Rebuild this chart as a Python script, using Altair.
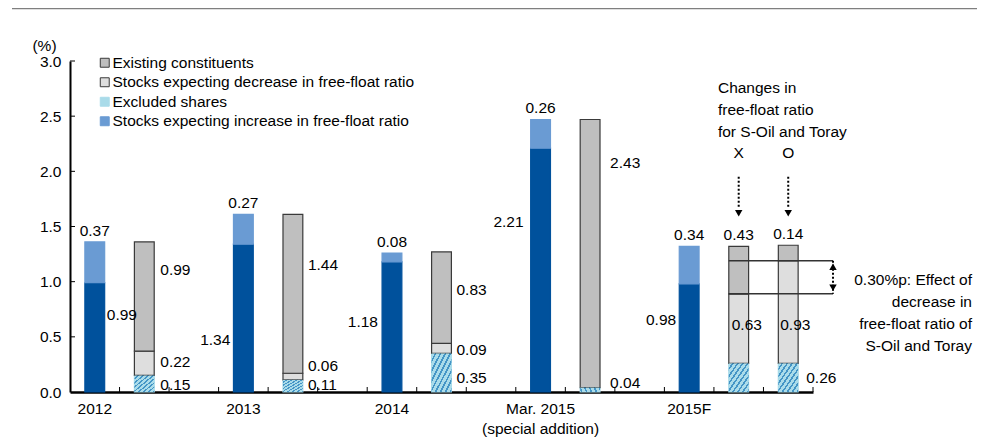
import altair as alt
import pandas as pd

# ---------------- data ----------------
periods = ["2012", "2013", "2014", "Mar. 2015", "2015F"]
categories = ["2012|L", "2012|R", "gap1", "2013|L", "2013|R", "gap2",
              "2014|L", "2014|R", "gap3", "Mar|L", "Mar|R", "gap4",
              "2015F|L", "2015F|X", "2015F|O"]
left_bars = ["2012|L", "2013|L", "2014|L", "Mar|L", "2015F|L"]
base_vals = [0.99, 1.34, 1.18, 2.21, 0.98]
increase_vals = [0.37, 0.27, 0.08, 0.26, 0.34]

right_bars = ["2012|R", "2013|R", "2014|R", "Mar|R", "2015F|X", "2015F|O"]
excluded_vals = [0.15, 0.11, 0.35, 0.04, 0.26, 0.26]
decrease_vals = [0.22, 0.06, 0.09, 0.00, 0.63, 0.93]
existing_vals = [0.99, 1.44, 0.83, 2.43, 0.43, 0.14]

S_EXIST = "Existing constituents"
S_DEC = "Stocks expecting decrease in free-float ratio"
S_EXCL = "Excluded shares"
S_INC = "Stocks expecting increase in free-float ratio"
S_BASE = "Current constituents"
legend_series = [S_EXIST, S_DEC, S_EXCL, S_INC]

# label placement (value-axis units) for the side labels
base_label_y = [0.70, 0.47, 0.63, 1.54, 0.65]
base_label_align = ["left", "right", "right", "right", "right"]
base_label_dx = [12, -13, -14, -17, -13]
right_label_dx = [16, 15, 15, 20]
existing_label_y = [1.11, 1.15, 0.92, 2.08]
decrease_label_y = [0.27, 0.24, 0.38, None]
excluded_label_y = [0.06, 0.06, 0.13, 0.08]

effect_low, effect_high = 0.89, 1.19

# ---------------- tables ----------------
rows = []
for c, b, inc in zip(left_bars, base_vals, increase_vals):
    rows.append(dict(cat=c, series=S_BASE, y0=0.0, y1=b))
    rows.append(dict(cat=c, series=S_INC, y0=b, y1=b + inc))
for c, e, d, x in zip(right_bars, excluded_vals, decrease_vals, existing_vals):
    rows.append(dict(cat=c, series=S_EXCL, y0=0.0, y1=e))
    if d > 0:
        rows.append(dict(cat=c, series=S_DEC, y0=e, y1=e + d))
    rows.append(dict(cat=c, series=S_EXIST, y0=e + d, y1=e + d + x))
bars = pd.DataFrame(rows)

top_rows = [dict(cat=c, y=b + i, text=f"{i:.2f}") for c, b, i in zip(left_bars, base_vals, increase_vals)]
for k in (4, 5):
    tot = excluded_vals[k] + decrease_vals[k] + existing_vals[k]
    top_rows.append(dict(cat=right_bars[k], y=tot, text=f"{existing_vals[k]:.2f}"))
tops = pd.DataFrame(top_rows)

lab = []
for i, c in enumerate(left_bars):
    lab.append(dict(cat=c, y=base_label_y[i], text=f"{base_vals[i]:.2f}",
                    align=base_label_align[i], dx=base_label_dx[i]))
for i in range(4):
    c = right_bars[i]
    lab.append(dict(cat=c, y=existing_label_y[i], text=f"{existing_vals[i]:.2f}", align="left", dx=right_label_dx[i]))
    if decrease_label_y[i] is not None:
        lab.append(dict(cat=c, y=decrease_label_y[i], text=f"{decrease_vals[i]:.2f}", align="left", dx=right_label_dx[i]))
    lab.append(dict(cat=c, y=excluded_label_y[i], text=f"{excluded_vals[i]:.2f}", align="left", dx=right_label_dx[i]))
lab.append(dict(cat="2015F|X", y=0.61, text=f"{decrease_vals[4]:.2f}", align="left", dx=-7))
lab.append(dict(cat="2015F|O", y=0.61, text=f"{decrease_vals[5]:.2f}", align="left", dx=-8))
lab.append(dict(cat="2015F|O", y=0.13, text=f"{excluded_vals[5]:.2f}", align="left", dx=18))
labels = pd.DataFrame(lab)

# ---------------- styling ----------------
W, H = 743, 331
FONT = "Liberation Sans"
FS = 15.5
fill_range = ["#bfbfbf", "#dedede", "#a9dbe9", "#6a9bd3", "#00519c"]
stroke_range = ["#3a3a3a", "#3a3a3a", "#a9dbe9", "#6a9bd3", "#00519c"]
domain_all = legend_series + [S_BASE]

xscale = alt.Scale(domain=categories, paddingInner=0, paddingOuter=0)
yscale = alt.Scale(domain=[0, 3], nice=False)

label_map = {"2012|L": "'2012'", "2013|L": "'2013'", "2014|L": "'2014'",
             "Mar|L": "['Mar. 2015', '(special addition)']", "2015F|L": "'2015F'"}
expr = "''"
for k, v in reversed(list(label_map.items())):
    expr = f"datum.value == '{k}' ? {v} : ({expr})"

xaxis = alt.Axis(title=None, labelExpr=expr, tickSize=0, labelPadding=9,
                 domainWidth=2.5, domainColor="black", labelAngle=0,
                 labelOverlap=False, labelFontSize=FS, labelFont=FONT,
                 labelColor="black", labelLineHeight=20, grid=False)
yaxis = alt.Axis(values=[0, 0.5, 1, 1.5, 2, 2.5, 3], format=".1f", tickSize=0,
                 labelPadding=9, domainWidth=2, domainColor="black",
                 labelFontSize=FS, labelFont=FONT, labelColor="black", grid=False,
                 title="(%)", titleAngle=0, titleX=-26, titleY=-16,
                 titleFontWeight="normal", titleFontSize=FS, titleFont=FONT,
                 titleAlign="center", titleBaseline="middle", titleColor="black")


def X(bp=0.5):
    return alt.X("cat:N", scale=xscale, axis=xaxis, bandPosition=bp)


def Y(field="y"):
    return alt.Y(f"{field}:Q", scale=yscale, axis=yaxis)


legend = alt.Legend(values=legend_series, title=None, orient="none", legendX=27, legendY=-6,
                    symbolType="square", symbolSize=80, labelFontSize=FS, labelFont=FONT,
                    labelColor="black", rowPadding=2.5, padding=0, labelOffset=0, labelLimit=0,
                    symbolStrokeWidth=1)

base_bars = alt.Chart(bars).mark_bar(width=alt.RelativeBandSize(0.4), strokeWidth=1.2).encode(
    x=X(),
    y=Y("y0"),
    y2="y1:Q",
    fill=alt.Fill("series:N", scale=alt.Scale(domain=domain_all, range=fill_range), legend=legend),
    stroke=alt.Stroke("series:N", scale=alt.Scale(domain=domain_all, range=stroke_range), legend=legend),
)

N = 8
stops = []
for k in range(N):
    a, b, e = k / N, (k + 0.62) / N, (k + 1) / N
    stops += [alt.GradientStop(offset=a, color="#aadcea"), alt.GradientStop(offset=b, color="#aadcea"),
              alt.GradientStop(offset=b, color="#4495c6"), alt.GradientStop(offset=e, color="#4495c6")]
hatch_fill = alt.Gradient(gradient="linear", stops=stops, x1=0, y1=0, x2=1, y2=1)

hatch = alt.Chart(bars[bars.series == S_EXCL]).mark_bar(
    width=alt.RelativeBandSize(0.4), fill=hatch_fill, strokeWidth=0
).encode(x=X(), y=Y("y0"), y2="y1:Q")

# inward ticks
ytick = alt.Chart(pd.DataFrame({"y": [0.5, 1, 1.5, 2, 2.5, 3]})).mark_rule(
    color="black", strokeWidth=1).encode(y=Y(), x=alt.value(0), x2=alt.value(5))
xtick = alt.Chart(pd.DataFrame({"cat": categories[1:]})).mark_rule(
    color="black", strokeWidth=1).encode(x=X(0), y=alt.value(H), y2=alt.value(H - 5))
xtick_end = alt.Chart(pd.DataFrame({"cat": categories[-1:]})).mark_rule(
    color="black", strokeWidth=1).encode(x=X(1), y=alt.value(H), y2=alt.value(H - 5))

header = alt.Chart(pd.DataFrame({"a": [0]})).mark_rule(color="#7f7f7f", strokeWidth=2.5).encode(
    x=alt.value(-58), x2=alt.value(W + 164), y=alt.value(-53))

txt = dict(font=FONT, fontSize=FS, color="black", baseline="middle")

top_text = alt.Chart(tops).mark_text(align="center", dy=-11, **txt).encode(
    x=X(), y=Y(), text="text:N")

side_layers = []
for (al, dx), grp in labels.groupby(["align", "dx"]):
    side_layers.append(alt.Chart(grp).mark_text(align=al, dx=int(dx), **txt).encode(
        x=X(), y=Y(), text="text:N"))

# effect lines and double arrow (start at the left edge of the X bar)
eff = pd.DataFrame({"cat": ["2015F|X", "2015F|X"], "y": [effect_low, effect_high]})
eff_lines = alt.Chart(eff).mark_rule(color="#333333", strokeWidth=1.5).encode(
    x=X(0.3), x2=alt.value(W + 20), y=Y())
arrow_df = pd.DataFrame({"y": [effect_high], "y2": [effect_low]})
eff_dots = alt.Chart(arrow_df).mark_rule(color="black", strokeWidth=2, strokeDash=[2, 2]).encode(
    x=alt.value(W + 20), y=Y(), y2="y2:Q")
tri_up = alt.Chart(pd.DataFrame({"y": [effect_high]})).mark_point(
    shape="triangle-up", filled=True, color="black", size=55, opacity=1, yOffset=6).encode(
    x=alt.value(W + 20), y=Y())
tri_dn = alt.Chart(pd.DataFrame({"y": [effect_low]})).mark_point(
    shape="triangle-down", filled=True, color="black", size=55, opacity=1, yOffset=-6).encode(
    x=alt.value(W + 20), y=Y())

# top dotted arrows for X / O
arr = pd.DataFrame({"cat": ["2015F|X", "2015F|O"], "y": [1.95, 1.95], "y2": [1.66, 1.66]})
arr_lines = alt.Chart(arr).mark_rule(color="black", strokeWidth=2, strokeDash=[2, 2]).encode(
    x=X(), y=Y(), y2="y2:Q")
arr_heads = alt.Chart(pd.DataFrame({"cat": ["2015F|X", "2015F|O"], "y": [1.62, 1.62]})).mark_point(
    shape="triangle-down", filled=True, color="black", size=55, opacity=1).encode(x=X(), y=Y())

xo = alt.Chart(pd.DataFrame({"cat": ["2015F|X", "2015F|O"], "y": [2.17, 2.17], "text": ["X", "O"]})).mark_text(
    align="center", **txt).encode(x=X(), y=Y(), text="text:N")

changes_text = alt.Chart(pd.DataFrame({"cat": ["2015F|X"], "y": [2.755],
                                       "text": [["Changes in", "free-float ratio", "for S-Oil and Toray"]]})
                         ).mark_text(align="left", dx=4, lineHeight=22, **txt).encode(
    x=X(0), y=Y(), text="text")

effect_text = alt.Chart(pd.DataFrame({"y": [1.015],
                                      "text": [["0.30%p: Effect of", "decrease in",
                                                "free-float ratio of", "S-Oil and Toray"]]})
                        ).mark_text(align="right", lineHeight=22, **txt).encode(
    x=alt.value(W + 159), y=Y(), text="text")

chart = alt.layer(
    base_bars, hatch, header, ytick, xtick, xtick_end, eff_lines, eff_dots, tri_up, tri_dn,
    arr_lines, arr_heads, xo, changes_text, effect_text, top_text, *side_layers
).properties(
    width=W, height=H,
    autosize=alt.AutoSizeParams(type="none"),
    padding={"left": 62, "top": 53, "right": 173, "bottom": 45},
).configure_view(stroke=None).configure_axis(grid=False)

chart.save("out.html", embed_options={"renderer": "svg", "actions": False})
